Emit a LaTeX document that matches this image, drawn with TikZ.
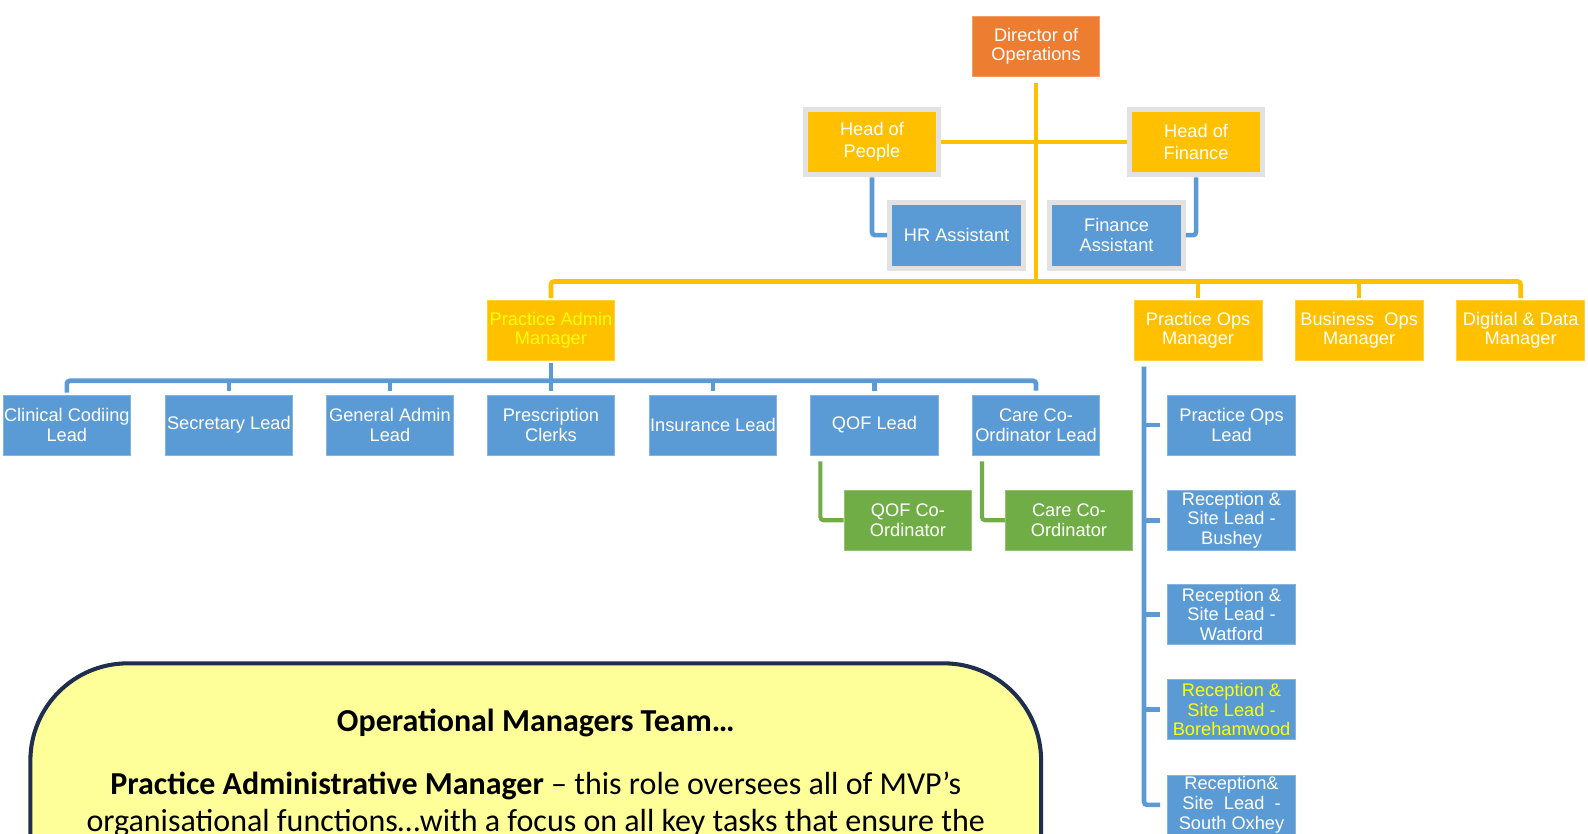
\documentclass[tikz,border=0pt]{standalone}
\usepackage{fontspec}
\setmainfont{Liberation Sans}
\newfontfamily\calibri{Carlito}
\definecolor{orng}{HTML}{ED7D31}
\definecolor{yel}{HTML}{FFC000}
\definecolor{blu}{HTML}{5B9BD5}
\definecolor{grn}{HTML}{70AD47}
\definecolor{framec}{HTML}{E2E2E2}
\definecolor{navy}{HTML}{1F2E4E}
\definecolor{pale}{HTML}{FFFF99}
\definecolor{txtyel}{HTML}{FFFF00}
\begin{document}
\begin{tikzpicture}[x=0.5pt,y=-0.5pt,
  box/.style={minimum width=63pt, minimum height=29.5pt, inner sep=0pt, align=center,
    text=white, font=\fontsize{9}{9.7}\selectfont, line width=0.4pt, yshift=-0.6pt},
  obox/.style={box, fill=orng, draw=orng!75!white},
  ybox/.style={box, fill=yel, draw=yel!75!white},
  bbox/.style={box, fill=blu, draw=blu!75!white},
  gbox/.style={box, fill=grn, draw=grn!75!white},
  framed/.style={minimum width=66pt, minimum height=32.5pt, line width=2.5pt, draw=framec},
  widelines/.style={font=\fontsize{9}{11}\selectfont},
  yline/.style={draw=yel, line width=2.3pt, rounded corners=1.5pt},
  bline/.style={draw=blu, line width=2.3pt, rounded corners=1.5pt},
  gline/.style={draw=grn, line width=2pt, rounded corners=1.5pt},
  calfont/.style={font=\calibri\fontsize{15.8}{18}\selectfont, inner sep=0pt},
]
\path[use as bounding box] (0,0) rectangle (1568,823);
\clip (0,0) rectangle (1568,823);

% coordinates for buses
\coordinate (ybus) at (0,278);
\coordinate (bbus) at (0,376);

% top level
\node[obox] (dir) at (1023,44.5) {Director of\\Operations};
\node[ybox, framed, widelines] (hop) at (861,139) {Head of\\People};
\node[ybox, framed, widelines] (hof) at (1181,139) {Head of\\Finance};
\node[bbox, framed] (hra) at (944.5,231) {HR Assistant};
\node[bbox, framed] (fia) at (1102.5,231) {Finance\\Assistant};

% level 2
\node[ybox, text=txtyel] (pam) at (544,325) {Practice Admin\\Manager};
\node[ybox] (pom) at (1183,325) {Practice Ops\\Manager};
\node[ybox] (bom) at (1342,325) {Business~~Ops\\Manager};
\node[ybox] (ddm) at (1501.5,325) {Digitial \& Data\\Manager};

% level 3 (admin)
\node[bbox] (ccl) at (66,418.5) {Clinical Codiing\\Lead};
\node[bbox] (sec) at (226,418.5) {Secretary Lead};
\node[bbox] (gal) at (385,418.5) {General Admin\\Lead};
\node[bbox] (prc) at (544,418.5) {Prescription\\Clerks};
\node[bbox] (ins) at (704,418.5) {Insurance Lead};
\node[bbox] (qof) at (863.5,418.5) {QOF Lead};
\node[bbox] (cco) at (1023,418.5) {Care Co-\\Ordinator Lead};

\node[gbox] (qofc) at (896.5,512.5) {QOF Co-\\Ordinator};
\node[gbox] (ccoc) at (1055.5,512.5) {Care Co-\\Ordinator};

% ops column
\node[bbox] (pol) at (1216,418.5) {Practice Ops\\Lead};
\node[bbox] (rbu) at (1216,512.5) {Reception \&\\Site Lead -\\Bushey};
\node[bbox] (rwa) at (1216,605.5) {Reception \&\\Site Lead -\\Watford};
\node[bbox, text=txtyel] (rbo) at (1216,699.5) {Reception \&\\Site Lead -\\Borehamwood};
\node[bbox] (rso) at (1216,793.5) {Reception\&\\Site~~Lead~~-\\South Oxhey};

% yellow connectors
\draw[yline, shorten <=3pt] (dir.south) -- (dir.south |- ybus);
\draw[yline] (hop.east) -- (hof.west);
\draw[yline, shorten <=1pt, shorten >=1pt] (pam.north) -- (pam.north |- ybus) -- (ddm.north |- ybus) -- (ddm.north);
\draw[yline, shorten >=1pt] (pom.north |- ybus) -- (pom.north);
\draw[yline, shorten >=1pt] (bom.north |- ybus) -- (bom.north);

% blue connectors
\draw[bline] (hop.south) |- (hra.west);
\draw[bline] (hof.south) |- (fia.east);
\draw[bline, shorten <=1pt] (pam.south) -- (pam.south |- bbus);
\draw[bline, shorten <=1pt, shorten >=2pt] (ccl.north) -- (ccl.north |- bbus) -- (cco.north |- bbus) -- (cco.north);
\foreach \n in {sec,gal,prc,ins,qof}{
  \draw[bline, shorten >=2pt] (\n.north |- bbus) -- (\n.north);
}
\coordinate (opsx) at ([xshift=5pt]pom.south west);
\draw[bline, shorten <=3pt] (opsx) |- ([xshift=-3.5pt]rso.west);
\foreach \n in {pol,rbu,rwa,rbo}{
  \draw[bline, shorten >=3.5pt] (opsx |- \n.west) -- (\n.west);
}

% green connectors
\draw[gline, shorten <=3pt] ([xshift=5pt]qof.south west) |- (qofc.west);
\draw[gline, shorten <=3pt] ([xshift=5pt]cco.south west) |- (ccoc.west);

% callout
\draw[draw=navy, fill=pale, line width=2pt, rounded corners=48pt] (30,655) rectangle (1028,960);
\node[calfont] (cttl) at (529,714) {\textbf{Operational Managers Team…}};
\node[calfont] (cl1) at (529,776) {\textbf{Practice Administrative Manager} – this role oversees all of MVP’s};
\node[calfont] (cl2) at (529,813) {organisational functions…with a focus on all key tasks that ensure the};
\end{tikzpicture}
\end{document}
